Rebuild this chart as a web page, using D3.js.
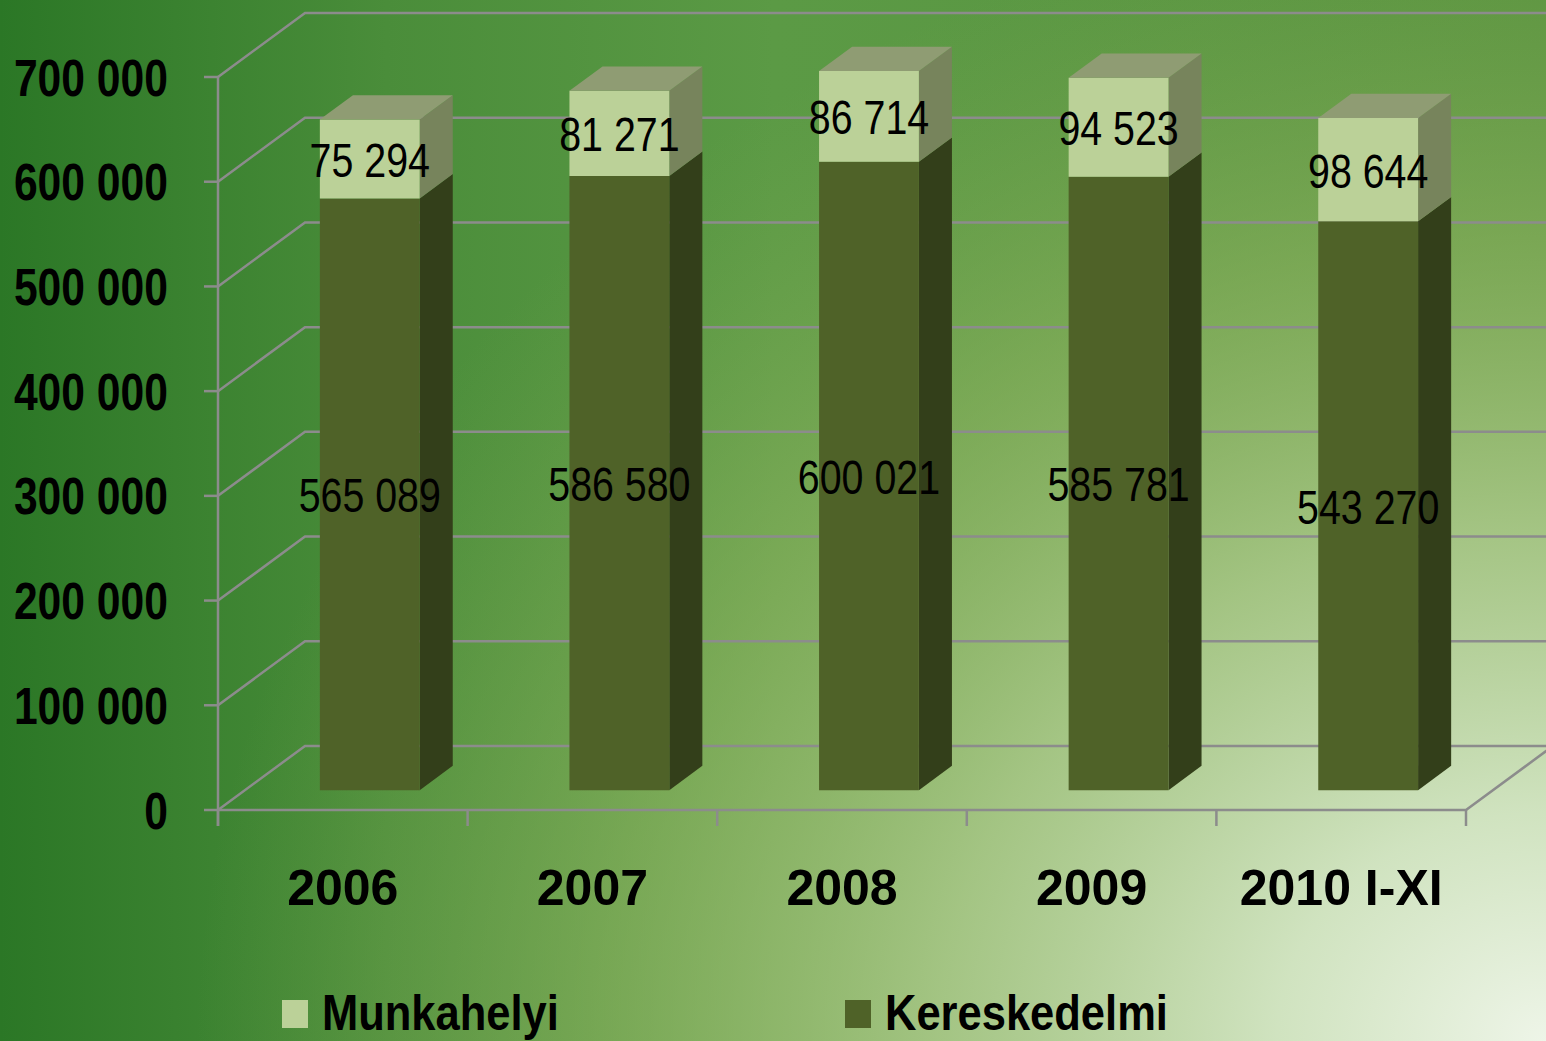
<!DOCTYPE html>
<html><head><meta charset="utf-8">
<script src="https://cdn.jsdelivr.net/npm/d3@7/dist/d3.min.js"></script>
<style>html,body{margin:0;padding:0;overflow:hidden;background:#2b7726}</style>
</head><body>
<svg id="c" width="1546" height="1041"></svg>
<script>
const categories = ["2006", "2007", "2008", "2009", "2010 I-XI"];
const munkahelyi = [75294, 81271, 86714, 94523, 98644];
const kereskedelmi = [565089, 586580, 600021, 585781, 543270];
const yTicks = [0, 100000, 200000, 300000, 400000, 500000, 600000, 700000];
const seriesNames = ["Munkahelyi", "Kereskedelmi"];

const W = 1546, H = 1041;
const svg = d3.select("#c");
const defs = svg.append("defs");

// background
const lg = defs.append("linearGradient").attr("id","bgLin").attr("x1",0).attr("x2",1).attr("y1",0).attr("y2",0);
lg.append("stop").attr("offset",0).attr("stop-color","#2b7726");
lg.append("stop").attr("offset",0.25).attr("stop-color","#4a8d3a");
lg.append("stop").attr("offset",0.5).attr("stop-color","#5b9a45");
lg.append("stop").attr("offset",1).attr("stop-color","#5a9440");
const rg = defs.append("radialGradient").attr("id","bgRad").attr("gradientUnits","userSpaceOnUse")
  .attr("cx",1546).attr("cy",1041).attr("r",1350)
  .attr("gradientTransform","translate(1546,1041) scale(1,0.85) translate(-1546,-1041)");
rg.append("stop").attr("offset",0).attr("stop-color","#eef5e8").attr("stop-opacity",1);
rg.append("stop").attr("offset",0.2).attr("stop-color","#d6e7c6").attr("stop-opacity",0.95);
rg.append("stop").attr("offset",0.45).attr("stop-color","#b0cc8e").attr("stop-opacity",0.85);
rg.append("stop").attr("offset",0.7).attr("stop-color","#9aba68").attr("stop-opacity",0.5);
rg.append("stop").attr("offset",1).attr("stop-color","#80a850").attr("stop-opacity",0);
svg.append("rect").attr("width",W).attr("height",H).attr("fill","url(#bgLin)");
svg.append("rect").attr("width",W).attr("height",H).attr("fill","url(#bgRad)");

// scales
const x = d3.scaleBand().domain(categories).range([218, 1466]).padding(0);
const y = d3.scaleLinear().domain([0, 700000]).range([810, 77]);
const DX = 87, DY = -64; // full depth offset
const P = (px, v, z) => [px + DX*z, y(v) + DY*z];

const grid = "#8c8c8c", gw = 2.5;
const g = svg.append("g");
yTicks.forEach(t => {
  const a = P(218, t, 0), b = P(218, t, 1), c = P(1466, t, 1);
  g.append("polyline").attr("points",[a,b,c].map(p=>p.join(",")).join(" "))
    .attr("fill","none").attr("stroke",grid).attr("stroke-width",gw);
  g.append("line").attr("x1",204).attr("x2",218).attr("y1",y(t)).attr("y2",y(t))
    .attr("stroke",grid).attr("stroke-width",gw);
});
{
  const a = P(218,0,0), b = P(1466,0,0), c = P(1466,0,1);
  g.append("polyline").attr("points",[a,b,c].map(p=>p.join(",")).join(" "))
    .attr("fill","none").attr("stroke",grid).attr("stroke-width",gw);
}
g.append("line").attr("x1",218).attr("x2",218).attr("y1",y(700000)).attr("y2",826)
  .attr("stroke",grid).attr("stroke-width",gw);
categories.concat(["end"]).forEach((c,i) => {
  const px = i < categories.length ? x(c) : x(categories[categories.length-1]) + x.bandwidth();
  g.append("line").attr("x1",px).attr("x2",px).attr("y1",810).attr("y2",826)
    .attr("stroke",grid).attr("stroke-width",gw);
});

const fmt = d3.formatLocale({thousands:" ", grouping:[3], decimal:",", currency:["",""]}).format(",d");
const font = "'Liberation Sans',Arial,sans-serif";
function narrowText(parent, tx, ty, str, size, weight, anchor, sx) {
  return parent.append("text")
    .attr("transform",`translate(${tx},${ty}) scale(${sx||0.82},1)`)
    .attr("text-anchor",anchor).attr("font-family",font)
    .attr("font-weight",weight).attr("font-size",size).attr("fill","#000").text(str);
}

// y tick labels
const yl = svg.append("g");
yTicks.forEach(t => narrowText(yl, 168, y(t)+18.5, fmt(t), 52, "bold", "end"));

// bars
const z0 = 0.31, z1 = 0.69;
const bw = x.bandwidth()*0.4;
const colors = {
  dark: {front:"#4f6228", side:"#333f1a", top:"#5d6f38"},
  light:{front:"#bbd198", side:"#77845c", top:"#8f9c73"}
};
const bars = svg.append("g");
function box(x0, x1, v0, v1, col, drawTop) {
  const f = [P(x0,v0,z0),P(x1,v0,z0),P(x1,v1,z0),P(x0,v1,z0)];
  const s = [P(x1,v0,z0),P(x1,v0,z1),P(x1,v1,z1),P(x1,v1,z0)];
  const t = [P(x0,v1,z0),P(x1,v1,z0),P(x1,v1,z1),P(x0,v1,z1)];
  bars.append("polygon").attr("points",s.map(p=>p.join(",")).join(" ")).attr("fill",col.side);
  bars.append("polygon").attr("points",f.map(p=>p.join(",")).join(" ")).attr("fill",col.front);
  if (drawTop) bars.append("polygon").attr("points",t.map(p=>p.join(",")).join(" ")).attr("fill",col.top);
}
categories.forEach((c,i) => {
  const cx = x(c) + x.bandwidth()/2;
  const k = kereskedelmi[i], m = munkahelyi[i];
  box(cx - bw/2, cx + bw/2, 0, k, colors.dark, false);
  box(cx - bw/2, cx + bw/2, k, k+m, colors.light, true);
});
categories.forEach((c,i) => {
  const cx = x(c) + x.bandwidth()/2 + DX*z0;
  const k = kereskedelmi[i], m = munkahelyi[i];
  const yk = (y(0) + y(k))/2 + DY*z0;
  const ym = (y(k) + y(k+m))/2 + DY*z0;
  narrowText(bars, cx, yk+18, fmt(k), 48, "normal", "middle");
  narrowText(bars, cx, ym+18, fmt(m), 48, "normal", "middle");
});

// x labels
svg.append("g").selectAll("text").data(categories).join("text")
  .attr("x",d=>x(d)+x.bandwidth()/2).attr("y",905).attr("text-anchor","middle")
  .attr("font-family",font).attr("font-weight","bold")
  .attr("font-size",50).attr("fill","#000").text(d=>d);

// legend
const legendX = [282, 845];
const legendCol = [colors.light.front, colors.dark.front];
const lgG = svg.append("g");
seriesNames.forEach((n,i) => {
  lgG.append("rect").attr("x",legendX[i]).attr("y",1000).attr("width",26).attr("height",28).attr("fill",legendCol[i]);
  narrowText(lgG, legendX[i]+40, 1030, n, 50, "bold", "start", 0.87);
});
</script>
</body></html>
